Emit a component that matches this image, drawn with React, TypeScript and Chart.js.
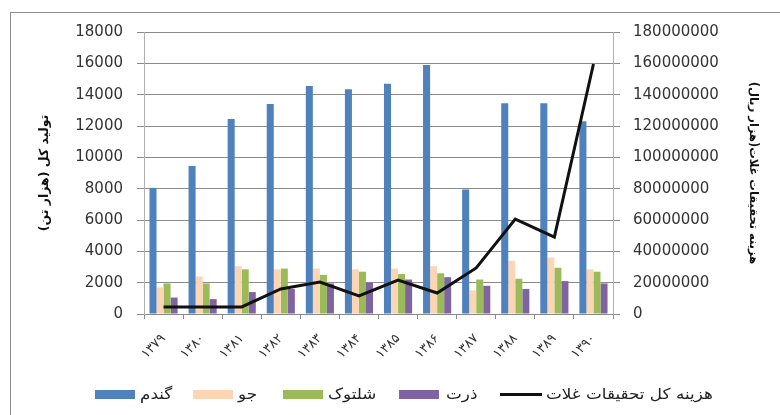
import React, { useEffect, useRef } from "react";
import { Chart, registerables } from "chart.js";

Chart.register(...registerables);

const years = ["۱۳۷۹", "۱۳۸۰", "۱۳۸۱", "۱۳۸۲", "۱۳۸۳", "۱۳۸۴", "۱۳۸۵", "۱۳۸۶", "۱۳۸۷", "۱۳۸۸", "۱۳۸۹", "۱۳۹۰"];
const wheat = [8050, 9450, 12450, 13400, 14550, 14350, 14700, 15900, 7950, 13450, 13450, 12300];
const barley = [1700, 2400, 3050, 2850, 2900, 2850, 2900, 3050, 1500, 3400, 3600, 2850];
const paddy = [1950, 1950, 2850, 2900, 2500, 2700, 2550, 2600, 2200, 2250, 2950, 2700];
const corn = [1050, 950, 1400, 1600, 1950, 2000, 2200, 2350, 1800, 1600, 2100, 1950];
const researchCost = [4500000, 4500000, 4500000, 16000000, 20400000, 11500000, 21700000, 13400000, 29400000, 60600000, 49100000, 159600000];

const leftTicks = { min: 0, max: 18000, step: 2000 };
const rightTicks = { min: 0, max: 180000000, step: 20000000 };

const seriesNames = ["گندم", "جو", "شلتوک", "ذرت", "هزینه کل تحقیقات غلات"];
const colors = ["#4F81BD", "#FCD5B4", "#9BBB59", "#8064A2", "#111111"];
const leftTitle = "تولید کل (هزار تن)";
const rightTitle = "هزینه تحقیقات غلات(هزار ریال)";

const FONT = "'DejaVu Sans', sans-serif";
const GRID = "#8a8a8a";

export default function App() {
  const ref = useRef<HTMLCanvasElement | null>(null);

  useEffect(() => {
    if (!ref.current) return;
    const bar = (label: string, data: number[], color: string) => ({
      type: "bar" as const,
      label,
      data,
      backgroundColor: color,
      borderWidth: 0,
      yAxisID: "y",
      order: 1,
      barPercentage: 1,
      categoryPercentage: 0.72,
    });
    const chart = new Chart(ref.current, {
      type: "bar",
      data: {
        labels: years,
        datasets: [
          bar(seriesNames[0], wheat, colors[0]),
          bar(seriesNames[1], barley, colors[1]),
          bar(seriesNames[2], paddy, colors[2]),
          bar(seriesNames[3], corn, colors[3]),
          {
            type: "line" as const,
            label: seriesNames[4],
            data: researchCost,
            borderColor: colors[4],
            backgroundColor: colors[4],
            borderWidth: 3,
            pointRadius: 0,
            tension: 0,
            yAxisID: "y1",
            order: 0,
          } as any,
        ],
      },
      options: {
        responsive: false,
        animation: false,
        layout: { padding: { left: 0, right: 0, top: 32, bottom: 41 } },
        plugins: {
          legend: { display: false },
          tooltip: { enabled: false },
        },
        scales: {
          x: {
            offset: true,
            grid: { drawOnChartArea: false, drawTicks: true, tickLength: 5, color: GRID, offset: true },
            border: { display: true, color: GRID },
            ticks: {
              minRotation: 45,
              maxRotation: 45,
              padding: 12,
              color: "#333",
              font: { family: FONT, size: 13 },
            },
            afterFit: (s: any) => {
              s.height = 60;
            },
          },
          y: {
            position: "left",
            min: leftTicks.min,
            max: leftTicks.max,
            grid: { color: GRID, tickLength: 7, drawTicks: true },
            border: { display: true, color: "#b0b0b0" },
            ticks: {
              stepSize: leftTicks.step,
              padding: 14,
              color: "#333",
              font: { family: FONT, size: 15 },
              callback: (v: any) => String(v),
            },
            title: {
              display: true,
              text: leftTitle,
              color: "#111",
              font: { family: FONT, size: 12.5, weight: "bold" },
              padding: { top: 37, bottom: 0 },
            },
            afterFit: (s: any) => {
              s.width = 144;
            },
          },
          y1: {
            position: "right",
            min: rightTicks.min,
            max: rightTicks.max,
            grid: { drawOnChartArea: false, color: GRID, tickLength: 7, drawTicks: true },
            border: { display: true, color: "#b0b0b0" },
            ticks: {
              stepSize: rightTicks.step,
              padding: 13,
              color: "#333",
              font: { family: FONT, size: 15 },
              callback: (v: any) => String(v),
            },
            title: {
              display: true,
              text: rightTitle,
              color: "#111",
              font: { family: FONT, size: 11.5, weight: "bold" },
              padding: { top: 20, bottom: 0 },
            },
            afterFit: (s: any) => {
              s.width = 167;
            },
          },
        },
      } as any,
    });
    return () => chart.destroy();
  }, []);

  const boxItems = [
    { box: 95, text: 140 },
    { box: 193, text: 238 },
    { box: 283, text: 328 },
    { box: 399, text: 446 },
  ];

  const textStyle: React.CSSProperties = {
    position: "absolute",
    top: 386,
    fontFamily: FONT,
    fontSize: 15,
    color: "#222",
    whiteSpace: "nowrap",
    lineHeight: "16px",
    transform: "scaleX(1.12)",
    transformOrigin: "left center",
  };

  return (
    <div style={{ position: "fixed", left: 0, top: 0, width: 780, height: 415, background: "#fff", overflow: "hidden" }}>
      <div style={{ position: "absolute", left: 10, top: 12, width: 800, height: 500, border: "1px solid #8c8c8c" }} />
      <canvas ref={ref} width={780} height={415} style={{ position: "absolute", left: 0, top: 0, width: 780, height: 415 }} />
      {boxItems.map((it, i) => (
        <React.Fragment key={i}>
          <div style={{ position: "absolute", left: it.box, top: 390, width: 40, height: 9, background: colors[i] }} />
          <span dir="rtl" style={{ ...textStyle, left: it.text }}>{seriesNames[i]}</span>
        </React.Fragment>
      ))}
      <div style={{ position: "absolute", left: 500, top: 393, width: 42, height: 3, background: colors[4] }} />
      <span dir="rtl" style={{ ...textStyle, left: 546 }}>{seriesNames[4]}</span>
    </div>
  );
}
